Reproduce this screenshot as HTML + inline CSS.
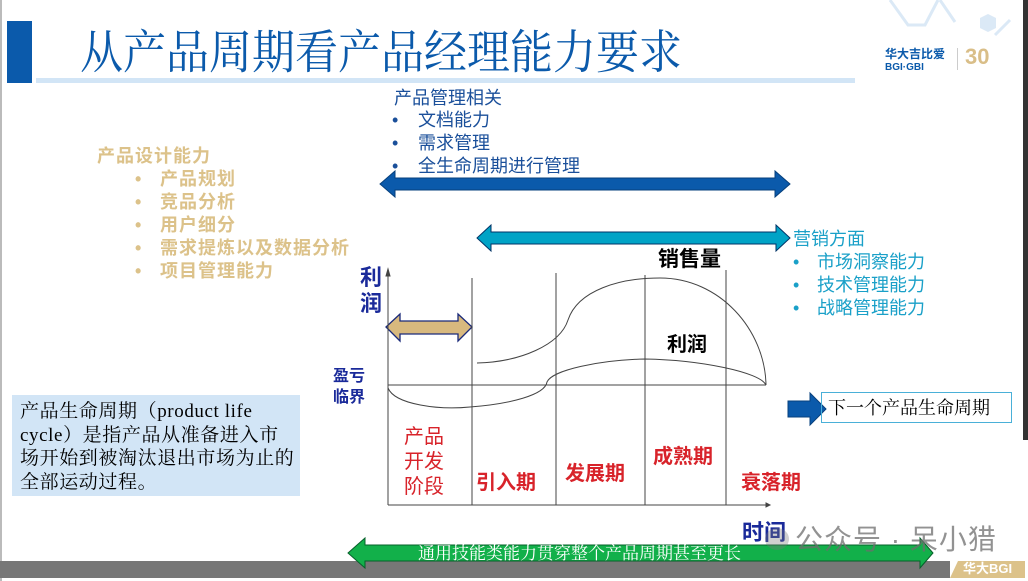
<!DOCTYPE html>
<html><head><meta charset="utf-8"><style>
body{margin:0;width:1028px;height:581px;overflow:hidden;background:#fff;position:relative;font-family:"Liberation Sans","Noto Sans CJK SC",sans-serif}
.a{position:absolute;white-space:nowrap;line-height:1}
.tan{color:#dcc28a;font-weight:bold;font-size:18px;letter-spacing:1px}
.blu{color:#1a4f9a;font-size:18px}
.cy{color:#1aa0c8;font-size:18px}
.red{color:#d8232a;font-weight:bold;font-size:20px}
.nv{color:#1a2a9a;font-weight:bold}
</style></head><body>
<div class="a" style="left:0;top:0;width:2px;height:581px;background:#bbb"></div>
<div class="a" style="left:1023px;top:0;width:5px;height:440px;background:#333"></div>
<div class="a" style="left:7px;top:21px;width:25px;height:62px;background:#0b5aab"></div>
<div class="a" style="left:36px;top:78px;width:819px;height:5px;background:#d2e5f6"></div>
<div class="a" style="left:80px;top:28px;font-size:43px;color:#0b5aab;font-family:'Noto Serif CJK SC',serif;transform:scaleY(1.08)">从产品周期看产品经理能力要求</div>
<svg class="a" style="left:880px;top:0" width="140" height="40"><path d="M10 0 L28 25 L45 25 L58 0 M60 0 L75 22 M115 35 L130 20" stroke="#dbe9f6" stroke-width="3" fill="none"/><polygon points="100,18 108,14 116,18 116,28 108,32 100,28" fill="#dbe9f6"/></svg>
<div class="a" style="left:885px;top:48px;font-size:12px;font-weight:bold;color:#0b5aab">华大吉比爱<br><span style="font-size:10px">BGI·GBI</span></div>
<div class="a" style="left:957px;top:48px;width:1px;height:22px;background:#ccc"></div>
<div class="a" style="left:965px;top:46px;font-size:22px;font-weight:bold;color:#d9be88">30</div>

<div class="a blu" style="left:394px;top:89px">产品管理相关</div>
<div class="a blu" style="left:392px;top:111px">•</div><div class="a blu" style="left:418px;top:111px">文档能力</div>
<div class="a blu" style="left:392px;top:134px">•</div><div class="a blu" style="left:418px;top:134px">需求管理</div>
<div class="a blu" style="left:392px;top:157px">•</div><div class="a blu" style="left:418px;top:157px">全生命周期进行管理</div>

<div class="a tan" style="left:97px;top:147px">产品设计能力</div>
<div class="a tan" style="left:135px;top:170px">•</div><div class="a tan" style="left:160px;top:170px">产品规划</div>
<div class="a tan" style="left:135px;top:193px">•</div><div class="a tan" style="left:160px;top:193px">竞品分析</div>
<div class="a tan" style="left:135px;top:216px">•</div><div class="a tan" style="left:160px;top:216px">用户细分</div>
<div class="a tan" style="left:135px;top:239px">•</div><div class="a tan" style="left:160px;top:239px">需求提炼以及数据分析</div>
<div class="a tan" style="left:135px;top:262px">•</div><div class="a tan" style="left:160px;top:262px">项目管理能力</div>

<div class="a cy" style="left:793px;top:230px">营销方面</div>
<div class="a cy" style="left:793px;top:253px">•</div><div class="a cy" style="left:817px;top:253px">市场洞察能力</div>
<div class="a cy" style="left:793px;top:276px">•</div><div class="a cy" style="left:817px;top:276px">技术管理能力</div>
<div class="a cy" style="left:793px;top:299px">•</div><div class="a cy" style="left:817px;top:299px">战略管理能力</div>

<svg class="a" style="left:0;top:0" width="1028" height="581">
<polygon points="380,184 395,171 395,178 775,178 775,171 790,184 775,197 775,190 395,190 395,197" fill="#0b5aab" stroke="#07407c"/>
<polygon points="477,238 491,225 491,232 776,232 776,225 790,238 776,251 776,244 491,244 491,251" fill="#00a3c6" stroke="#036"/>
<polygon points="386,327 400,314 400,321 458,321 458,314 472,327 458,341 458,334 400,334 400,341" fill="#d8b97e" stroke="#1a2a7a" stroke-width="1.3"/>
<g stroke="#444" stroke-width="1" fill="none">
<line x1="388" y1="272" x2="388" y2="505"/><polygon points="386,276 388,269 390,276" fill="#444"/>
<line x1="388" y1="505" x2="768" y2="505"/><polygon points="766,503 770,505 766,507" fill="#444"/>
<line x1="472" y1="278" x2="472" y2="505"/><line x1="556" y1="273" x2="556" y2="505"/><line x1="645" y1="275" x2="645" y2="505"/><line x1="726" y1="270" x2="726" y2="505"/>
<line x1="388" y1="385" x2="766" y2="385"/>
<path d="M477 363 C520 362 560 345 568 320 C578 290 620 278 660 278 C720 278 765 330 766 385"/>
<path d="M388 388 C395 405 440 410 470 407 C510 404 545 395 547 382 C552 370 600 360 645 359 C700 360 760 372 766 385"/>
</g>
<polygon points="788,401 810,401 810,393 826,409 810,425 810,417 788,417" fill="#0b5aab" stroke="#07407c"/>
<rect x="0" y="561" width="950" height="17" fill="#777"/>
<polygon points="958,561 1025,561 1025,578 950,578" fill="#dcc28a"/>
<polygon points="348,553 365,538 365,545 920,545 920,538 933,553 920,568 920,561 365,561 365,568" fill="#12b04a" stroke="#06602a"/>
</svg>
<div class="a" style="left:418px;top:543px;font-size:17px;color:#fff;font-family:'Noto Serif CJK SC',serif">通用技能类能力贯穿整个产品周期甚至更长</div>
<div class="a" style="left:963px;top:562px;font-size:13px;color:#fff;font-weight:bold">华大BGI</div>

<div class="a nv" style="left:360px;top:265px;font-size:22px;line-height:26px">利<br>润</div>
<div class="a nv" style="left:333px;top:366px;font-size:16px;line-height:21px">盈亏<br>临界</div>
<div class="a" style="left:658px;top:249px;font-size:21px;font-weight:bold">销售量</div>
<div class="a" style="left:667px;top:335px;font-size:20px;font-weight:bold">利润</div>
<div class="a red" style="left:404px;top:425px;line-height:25px;font-weight:normal">产品<br>开发<br>阶段</div>
<div class="a red" style="left:476px;top:473px">引入期</div>
<div class="a red" style="left:565px;top:464px">发展期</div>
<div class="a red" style="left:653px;top:447px">成熟期</div>
<div class="a red" style="left:741px;top:473px">衰落期</div>
<div class="a nv" style="left:742px;top:522px;font-size:22px">时间</div>
<div class="a" style="left:765px;top:528px;width:24px;height:22px;border-radius:50%;background:rgba(120,120,120,0.35)"></div>
<div class="a" style="left:795px;top:526px;font-size:28px;color:rgba(110,110,110,0.75);letter-spacing:1px">公众号 · 呆小猎</div>

<div class="a" style="left:12px;top:395px;width:288px;height:101px;background:#d2e5f6"></div>
<div class="a" style="left:20px;top:400px;font-size:19px;line-height:23.5px;letter-spacing:0.6px;font-family:'Liberation Serif','Noto Serif CJK SC',serif">产品生命周期（product life<br>cycle）是指产品从准备进入市<br>场开始到被淘汰退出市场为止的<br>全部运动过程。</div>

<div class="a" style="left:821px;top:392px;width:189px;height:29px;border:1px solid #4ab0d8"></div>
<div class="a" style="left:828px;top:398px;font-size:18px;font-family:'Noto Serif CJK SC',serif">下一个产品生命周期</div>
</body></html>
